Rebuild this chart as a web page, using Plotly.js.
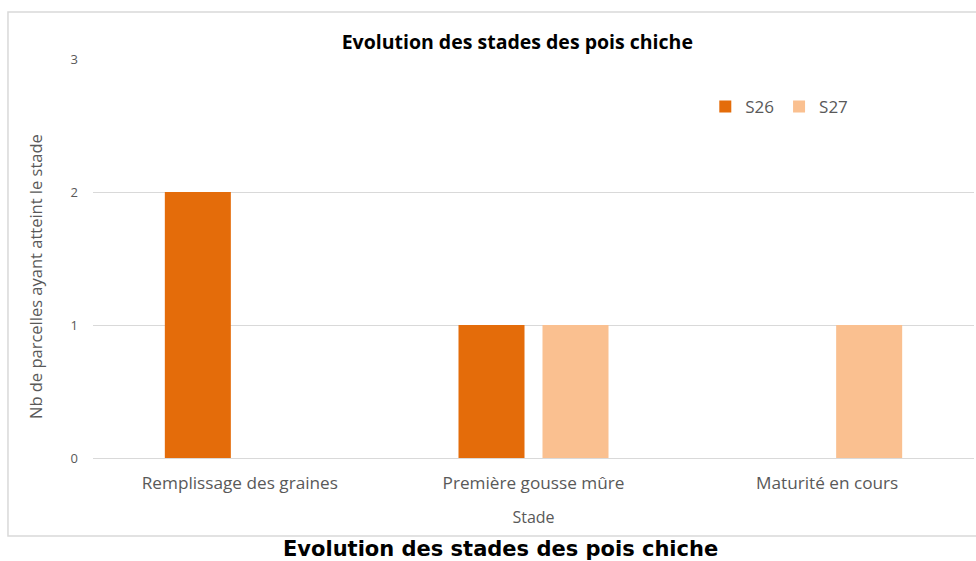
<!DOCTYPE html>
<html>
<head>
<meta charset="utf-8">
<script src="https://cdn.plot.ly/plotly-3.0.1.min.js"></script>
<style>html,body{margin:0;padding:0;background:#fff;}#chart{width:976px;height:561px;}</style>
</head>
<body>
<div id="chart"></div>
<script>
const categories = ["Remplissage des graines", "Première gousse mûre", "Maturité en cours"];
const seriesNames = ["S26", "S27"];
const s26 = [2, 1, 0];
const s27 = [0, 1, 1];
const yTicks = [0, 1, 2, 3];
const chartTitle = "Evolution des stades des pois chiche";
const xTitle = "Stade";
const yTitle = "Nb de parcelles ayant atteint le stade";

const font = "'Open Sans', sans-serif";
const traces = [
  {type: "bar", name: seriesNames[0], x: categories, y: s26, marker: {color: "#e46c0a"}, hoverinfo: "x+y+name"},
  {type: "bar", name: seriesNames[1], x: categories, y: s27, marker: {color: "#fac090"}, hoverinfo: "x+y+name"}
];
const layout = {
  width: 976, height: 561,
  margin: {l: 93, r: 2, t: 59, b: 103},
  paper_bgcolor: "#ffffff", plot_bgcolor: "#ffffff",
  font: {family: font, color: "#595959"},
  barmode: "group", bargap: 0.428, bargroupgap: 0.214,
  title: {text: "<b>" + chartTitle + "</b>", font: {family: font, size: 19.5, color: "#000000"}, x: 0.53, xanchor: "center", y: 0.925, yanchor: "middle"},
  xaxis: {
    showgrid: false, showline: true, linecolor: "#d9d9d9", linewidth: 1, zeroline: false,
    tickfont: {family: font, size: 17.2, color: "#595959"}, ticks: "", ticklabelstandoff: 9,
    title: {text: xTitle, font: {family: font, size: 16, color: "#595959"}, standoff: 19}
  },
  yaxis: {
    range: [0, 3], tickvals: yTicks, showgrid: true, gridcolor: "#d9d9d9", gridwidth: 1,
    zeroline: true, zerolinecolor: "#d9d9d9", showline: false, ticks: "",
    ticklabelstandoff: 14,
    tickfont: {family: font, size: 13, color: "#595959"}
  },
  legend: {orientation: "h", x: 0.695, y: 0.925, xanchor: "left", yanchor: "top", font: {family: font, size: 17, color: "#595959"}, itemwidth: 30, traceorder: "normal"},
  showlegend: true,
  shapes: [
    {type: "rect", xref: "paper", yref: "paper", x0: -0.0965, x1: 1.02, y0: -0.1955, y1: 1.1178, line: {color: "#d9d9d9", width: 1.5}, fillcolor: "rgba(0,0,0,0)", layer: "below"}
  ],
  annotations: [
    {text: yTitle, xref: "paper", yref: "paper", x: -0.0658, y: 0.4536, xanchor: "center", yanchor: "middle", textangle: -90, showarrow: false, font: {family: font, size: 16.5, color: "#595959"}},
    {text: "<b>" + chartTitle + "</b>", xref: "paper", yref: "paper", x: 0.462, y: -0.228, xanchor: "center", yanchor: "middle", showarrow: false, font: {family: "'DejaVu Sans', Verdana, sans-serif", size: 21, color: "#000000"}}
  ]
};
Plotly.newPlot("chart", traces, layout, {displayModeBar: false, staticPlot: true});
</script>
</body>
</html>
